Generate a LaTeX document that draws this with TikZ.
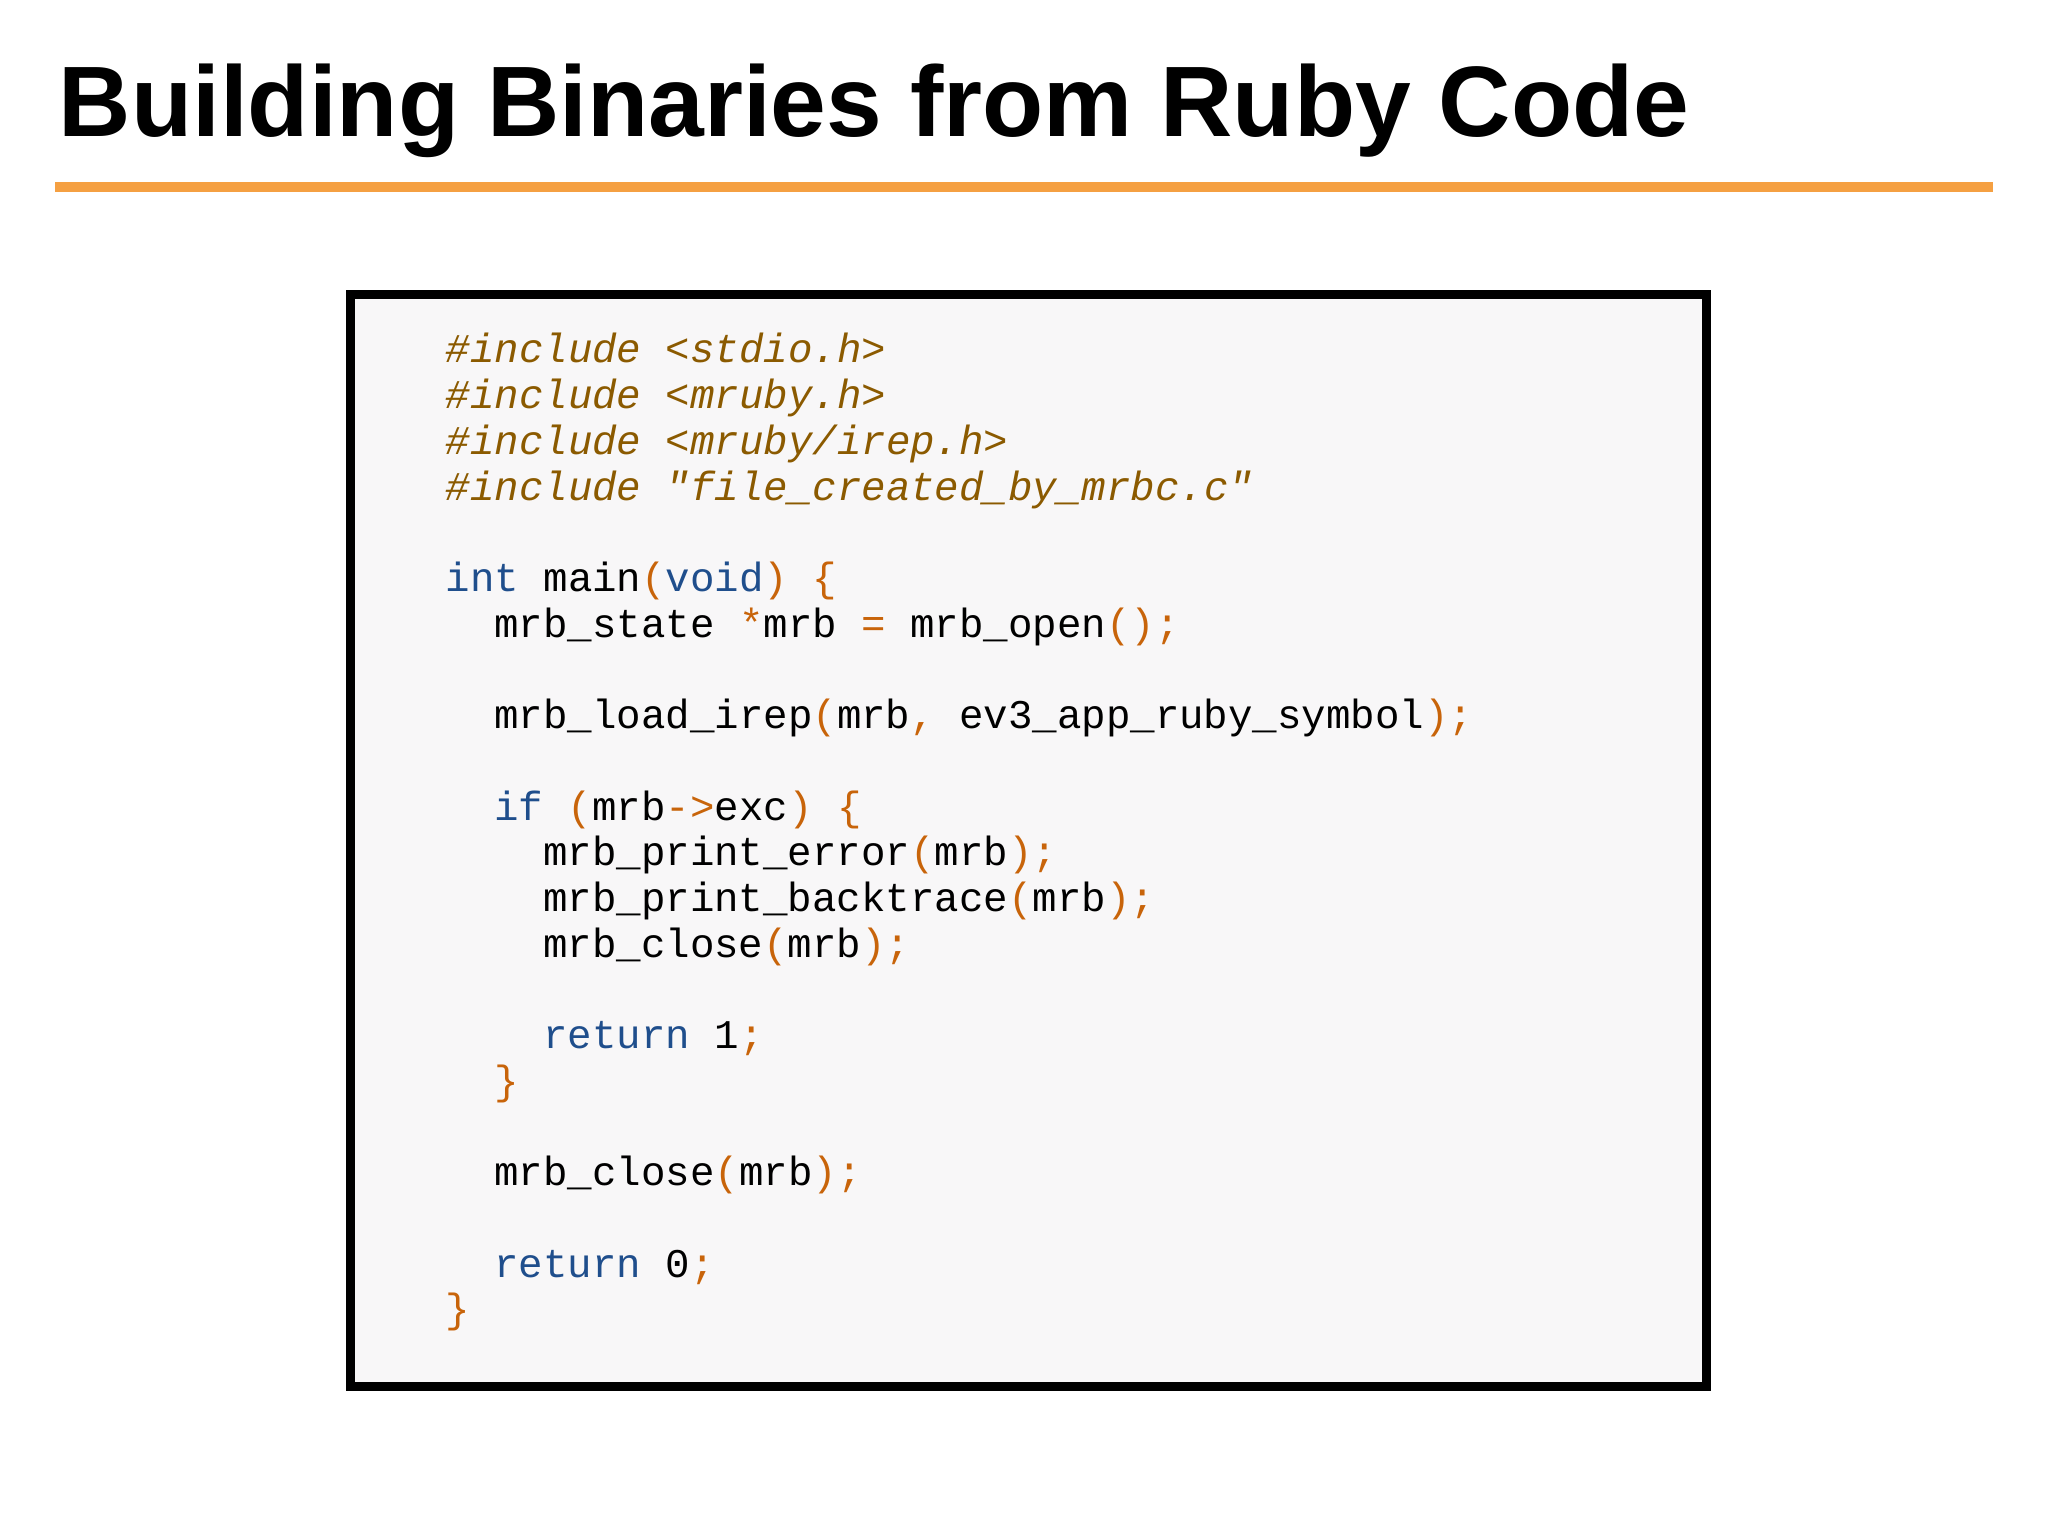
\documentclass[tikz,border=0pt]{standalone}
\usepackage{fontspec}
\setmainfont{Liberation Sans}
\newfontfamily\codefont{Liberation Mono}
\definecolor{orangeline}{HTML}{F5A042}
\definecolor{incl}{HTML}{8B5A00}
\definecolor{kw}{HTML}{1F4E8C}
\definecolor{pn}{HTML}{C8640A}
\definecolor{boxfill}{HTML}{F8F7F8}
\newcommand{\Kw}[1]{\textcolor{kw}{#1}}
\newcommand{\Pn}[1]{\textcolor{pn}{#1}}
\newcommand{\In}[1]{\textcolor{incl}{\itshape #1}}
\begin{document}
\begin{tikzpicture}[x=1cm,y=-1cm,
  codeline/.style={anchor=base west,inner sep=0pt,font=\codefont\fontsize{11.6pt}{13pt}\selectfont}]
\useasboundingbox (0,0) rectangle (20.48,15.36);
\node[anchor=base west,inner sep=0pt,font=\bfseries\fontsize{28.5pt}{32pt}\selectfont] (title) at (0.58,1.37) {Building Binaries from Ruby Code};
\draw[orangeline,line width=3pt] (0.55,1.87) -- (19.93,1.87);
\node[draw=black,line width=0.09cm,fill=boxfill,minimum width=13.56cm,minimum height=10.92cm,anchor=north west,inner sep=0pt] (box) at (3.46,2.90) {};
\def\X{4.45}\def\D{0.244}
\node[codeline] (l1) at (\X,3.63) {\In{\#include <stdio.h>}};
\node[codeline] (l2) at (\X,4.087) {\In{\#include <mruby.h>}};
\node[codeline] (l3) at (\X,4.544) {\In{\#include <mruby/irep.h>}};
\node[codeline] (l4) at (\X,5.001) {\In{\#include "file\_created\_by\_mrbc.c"}};
\node[codeline] (l5) at (\X,5.915) {\Kw{int} main\Pn{(}\Kw{void}\Pn{)} \Pn{\{}};
\node[codeline] (l6) at (\X+2*\D,6.372) {mrb\_state \Pn{*}mrb \Pn{=} mrb\_open\Pn{();}};
\node[codeline] (l7) at (\X+2*\D,7.286) {mrb\_load\_irep\Pn{(}mrb\Pn{,} ev3\_app\_ruby\_symbol\Pn{);}};
\node[codeline] (l8) at (\X+2*\D,8.200) {\Kw{if} \Pn{(}mrb\Pn{->}exc\Pn{)} \Pn{\{}};
\node[codeline] (l9) at (\X+4*\D,8.657) {mrb\_print\_error\Pn{(}mrb\Pn{);}};
\node[codeline] (l10) at (\X+4*\D,9.114) {mrb\_print\_backtrace\Pn{(}mrb\Pn{);}};
\node[codeline] (l11) at (\X+4*\D,9.571) {mrb\_close\Pn{(}mrb\Pn{);}};
\node[codeline] (l12) at (\X+4*\D,10.485) {\Kw{return} 1\Pn{;}};
\node[codeline] (l13) at (\X+2*\D,10.942) {\Pn{\}}};
\node[codeline] (l14) at (\X+2*\D,11.856) {mrb\_close\Pn{(}mrb\Pn{);}};
\node[codeline] (l15) at (\X+2*\D,12.770) {\Kw{return} 0\Pn{;}};
\node[codeline] (l16) at (\X,13.227) {\Pn{\}}};
\end{tikzpicture}
\end{document}
